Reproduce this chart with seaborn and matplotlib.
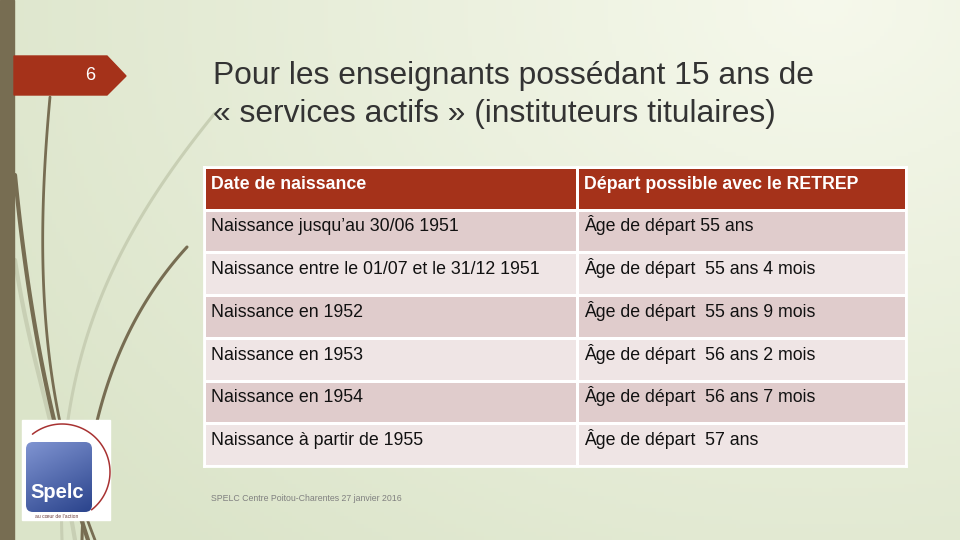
import numpy as np
import pandas as pd
import matplotlib.pyplot as plt
import seaborn as sns
from matplotlib.colors import ListedColormap
from matplotlib.patches import Polygon, Rectangle, FancyBboxPatch

# slide content
slide_number = "6"
title_lines = ["Pour les enseignants possédant 15 ans de",
               "« services actifs » (instituteurs titulaires)"]
headers = ["Date de naissance", "Départ possible avec le RETREP"]
birth_dates = ["Naissance jusqu’au 30/06 1951",
               "Naissance entre le 01/07 et le 31/12 1951",
               "Naissance en 1952",
               "Naissance en 1953",
               "Naissance en 1954",
               "Naissance à partir de 1955"]
departure_ages = ["Âge de départ 55 ans",
                  "Âge de départ  55 ans 4 mois",
                  "Âge de départ  55 ans 9 mois",
                  "Âge de départ  56 ans 2 mois",
                  "Âge de départ  56 ans 7 mois",
                  "Âge de départ  57 ans"]
footer = "SPELC Centre Poitou-Charentes 27 janvier 2016"

RED = "#a5321a"
OLIVE = "#776d52"
cell_colors = [RED, "#e0cccc", "#efe5e5"]

sns.set_theme(style="white")
plt.rcParams['font.family'] = ['Liberation Sans', 'DejaVu Sans']

fig = plt.figure(figsize=(9.6, 5.4), dpi=100)

# background in pixel coordinates
bg = fig.add_axes([0, 0, 1, 1])
bg.set_xlim(0, 960)
bg.set_ylim(540, 0)
bg.axis("off")
yy, xx = np.mgrid[0:540:4, 0:960:4]
d = np.clip(np.hypot(xx - 820, (yy - 0) * 1.3) / 950, 0, 1)[..., None]
light = np.array([0.965, 0.975, 0.925])
dark = np.array([0.86, 0.895, 0.79])
bg.imshow(light + (dark - light) * d, extent=[0, 960, 540, 0], aspect="auto", zorder=0)

# decorative curves
def bezier(p0, p1, p2, p3, n=80):
    t = np.linspace(0, 1, n)[:, None]
    pts = ((1 - t) ** 3 * np.array(p0) + 3 * (1 - t) ** 2 * t * np.array(p1)
           + 3 * (1 - t) * t ** 2 * np.array(p2) + t ** 3 * np.array(p3))
    return pts[:, 0], pts[:, 1]

curves = [
    ((215, 113), (120, 230), (55, 350), (62, 540), "#c8cfb4", 2.2),
    ((15, 260), (30, 360), (55, 420), (75, 540), "#c8cfb4", 3.0),
    ((50, 97), (35, 260), (40, 400), (95, 540), OLIVE, 2.0),
    ((15, 175), (30, 330), (55, 440), (88, 540), OLIVE, 3.0),
    ((187, 247), (120, 320), (85, 420), (82, 540), OLIVE, 2.2),
]
for p0, p1, p2, p3, c, lw in curves:
    x, y = bezier(p0, p1, p2, p3)
    bg.plot(x, y, color=c, lw=lw, solid_capstyle="round", zorder=1)

# left bar and slide number tab
bg.add_patch(Rectangle((0, 0), 14, 540, color=OLIVE, zorder=2))
bg.add_patch(Polygon([(14, 56), (107, 56), (126, 76), (107, 95), (14, 95)],
                     closed=True, color=RED, zorder=2))
bg.text(90, 76, slide_number, color="white", fontsize=13, ha="center", va="center", zorder=3)

# title
for i, line in enumerate(title_lines):
    bg.text(213, 84 + 38 * i, line, fontsize=22.9, color="#333333", va="baseline", zorder=3)

# footer
bg.text(211, 501, footer, fontsize=6.3, color="#808080", va="baseline", zorder=3)

# logo
bg.add_patch(Rectangle((22, 420), 88, 100, color="white", zorder=3))
blue = FancyBboxPatch((26, 442), 66, 70, boxstyle="round,pad=0,rounding_size=7",
                      facecolor="none", edgecolor="none", zorder=4)
bg.add_patch(blue)
gy = np.linspace(0, 1, 60)[:, None] * np.ones((1, 60))
gx = np.ones((60, 1)) * np.linspace(0, 1, 60)[None, :]
g = np.clip(0.6 * gy + 0.3 * gx, 0, 1)[..., None]
top = np.array([0.50, 0.58, 0.82])
bot = np.array([0.13, 0.23, 0.52])
im = bg.imshow(top + (bot - top) * g, extent=[26, 92, 512, 442], aspect="auto", zorder=4)
im.set_clip_path(blue)
bg.text(57, 492, "Spelc", color="white", fontsize=14.5, fontweight="bold",
        ha="center", va="center", zorder=5)
bg.text(57, 517, "au cœur de l’action", color="#6a3b3b", fontsize=3.6, ha="center", va="center", zorder=5)
t = np.radians(np.linspace(128, -52, 100))
bg.plot(62 + 48 * np.cos(t), 472 - 48 * np.sin(t), color="#a83232", lw=1.1, zorder=5)

# table: one heatmap per column, shading codes header / odd / even
codes = pd.DataFrame({"shade": [0] + [1 + (i % 2) for i in range(len(birth_dates))]})
table_top, table_bottom = 167, 466
columns = [(204, 577, headers[0], birth_dates), (577, 906, headers[1], departure_ages)]
for left, right, head, values in columns:
    ax = fig.add_axes([left / 960, 1 - table_bottom / 540,
                       (right - left) / 960, (table_bottom - table_top) / 540])
    sns.heatmap(codes, cmap=ListedColormap(cell_colors), vmin=-0.5, vmax=2.5, cbar=False,
                linewidths=2, linecolor="white", xticklabels=False, yticklabels=False, ax=ax)
    for s in ax.spines.values():
        s.set_visible(True)
        s.set_color("white")
        s.set_linewidth(2)
    pad = 7 / (right - left)
    ax.text(pad, 0.52, head, color="white", fontsize=12.8, fontweight="bold", va="baseline")
    for i, v in enumerate(values):
        ax.text(pad, i + 1.51, v, color="#111111", fontsize=12.8, va="baseline")

fig.savefig("out.png", dpi=100)
